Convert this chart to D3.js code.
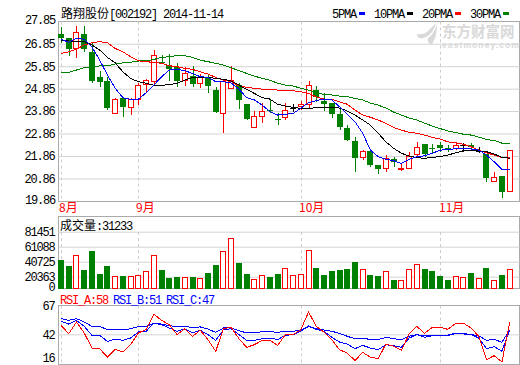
<!DOCTYPE html>
<html>

<head>
  <meta charset="utf-8">
  <script src="https://d3js.org/d3.v7.min.js"></script>
  <style>
    html, body { margin: 0; padding: 0; background: #fff; }
    svg { display: block; }
    text { font-family: "Liberation Mono", monospace; font-size: 12px; letter-spacing: -1.2px; fill: #000; }
    .cjk { font-family: "Noto Sans CJK SC", sans-serif; letter-spacing: 0; }
    .tick line { stroke: #d4d4d4; }
  </style>
</head>

<body>
  <div id="chart"></div>

  <script>
    const monthLabels = ["8月", "9月", "10月", "11月"];
    const monthIndex = [0, 10, 31, 49];

    const priceTicks = [27.85, 26.85, 25.85, 24.85, 23.86, 22.86, 21.86, 20.86, 19.86];
    const volumeTicks = [81451, 61088, 40725, 20363, 0];
    const rsiTicks = [67, 42, 16];

    const openPrice = [27.28, 27.09, 26.67, 27.28, 26.49, 25.37, 25.19, 23.79, 24.44, 24.03, 24.38, 25.05, 25.18, 26.04, 25.90,
      25.83, 25.21, 25.42, 25.12, 25.38, 24.79, 23.79, 24.88, 25.02, 24.17, 23.16, 23.65, 23.91, 23.49, 23.63, 23.98, 24.05, 24.17, 24.79, 24.31, 24.20, 23.73,
      23.09, 22.54, 21.81, 22.10, 21.46, 21.34, 21.72, 21.32, 21.34, 21.92, 22.40, 22.20, 22.35, 22.20, 22.23, 22.33, 22.35, 22.10, 21.94, 20.77, 20.98, 20.32];
    const closePrice = [27.11, 26.61, 27.36, 26.61, 25.21, 25.16, 24.00, 24.39, 24.05, 24.39, 25.00, 25.22, 26.35, 26.02, 25.73,
      25.19, 25.54, 25.06, 25.38, 24.98, 23.82, 25.21, 25.24, 24.36, 23.51, 23.64, 23.85, 23.88, 23.47, 23.92, 23.98, 24.16, 25.00, 24.47, 24.17, 23.73, 23.16,
      22.57, 21.77, 22.07, 21.48, 21.29, 21.79, 21.57, 21.34, 21.88, 22.25, 21.95, 22.18, 22.23, 22.17, 22.35, 22.33, 22.26, 22.10, 20.89, 20.94, 20.28, 22.14];
    const highPrice = [27.59, 27.11, 27.63, 27.63, 26.88, 25.65, 25.37, 24.42, 24.44, 24.45, 25.09, 25.28, 26.57, 26.35, 26.39,
      25.98, 25.83, 25.86, 25.50, 25.46, 24.93, 25.30, 25.86, 25.09, 24.17, 23.86, 24.22, 24.35, 23.76, 24.20, 24.17, 24.30, 25.21, 24.97, 24.65, 24.22, 24.00,
      23.24, 22.72, 22.13, 22.13, 21.46, 21.91, 21.83, 21.54, 22.03, 22.50, 22.40, 22.40, 22.50, 22.35, 22.47, 22.44, 22.45, 22.28, 21.97, 21.17, 20.98, 22.14];
    const lowPrice = [26.88, 26.32, 26.23, 26.49, 25.11, 24.94, 23.90, 23.73, 23.58, 23.68, 24.13, 24.66, 25.02, 26.00, 25.19,
      24.91, 24.97, 24.91, 24.90, 24.67, 23.76, 22.87, 24.84, 23.96, 23.46, 23.15, 23.34, 23.77, 23.24, 23.46, 23.82, 23.91, 23.98, 24.26, 23.85, 23.54, 23.02,
      22.54, 21.17, 21.66, 21.39, 21.06, 21.17, 21.39, 21.21, 21.30, 21.81, 21.83, 21.98, 22.05, 22.05, 22.13, 22.04, 22.13, 22.01, 20.72, 20.77, 20.00, 20.32];

    const ma5 = [27.04, 26.92, 27.10, 27.04, 26.71, 26.12, 25.46, 24.87, 24.45, 24.38, 24.38, 24.67, 25.01, 25.38, 25.68,
      25.71, 25.65, 25.53, 25.38, 25.36, 25.16, 25.16, 25.10, 24.83, 24.45, 24.35, 24.12, 23.83, 23.68, 23.71, 23.75, 23.98, 24.23, 24.32, 24.39, 24.35, 24.05,
      23.72, 23.38, 22.87, 22.12, 21.83, 21.71, 21.65, 21.53, 21.71, 21.83, 21.87, 21.98, 22.12, 22.15, 22.18, 22.20, 22.17, 22.12, 21.90, 21.60, 21.27, 21.27];
    const ma10 = [27.01, 26.97, 26.95, 26.94, 26.79, 26.57, 26.24, 26.00, 25.60, 25.31, 25.16, 25.09, 25.01, 25.00, 25.03,
      25.09, 25.23, 25.35, 25.35, 25.35, 25.31, 25.27, 25.19, 25.01, 24.82, 24.64, 24.45, 24.39, 24.16, 24.08, 24.02, 23.98, 23.98, 24.00, 24.02, 24.03, 23.99,
      23.86, 23.68, 23.46, 23.23, 22.87, 22.49, 22.20, 21.98, 21.86, 21.78, 21.76, 21.80, 21.83, 21.90, 22.00, 22.09, 22.12, 22.09, 22.05, 21.95, 21.80, 21.76];
    const ma20 = [26.42, 26.49, 26.61, 26.79, 26.89, 26.94, 26.89, 26.64, 26.49, 26.27, 26.09, 26.05, 26.02, 25.98, 25.87,
      25.83, 25.75, 25.71, 25.60, 25.50, 25.35, 25.23, 25.16, 24.98, 24.91, 24.87, 24.83, 24.82, 24.79, 24.79, 24.76, 24.72, 24.64, 24.49, 24.39, 24.38, 24.27,
      24.16, 23.90, 23.68, 23.58, 23.46, 23.31, 23.13, 23.01, 22.91, 22.87, 22.79, 22.69, 22.61, 22.49, 22.45, 22.38, 22.27, 22.12, 22.00, 21.90, 21.78, 21.80];
    const ma30 = [25.58, 25.58, 25.68, 25.78, 25.83, 25.86, 25.87, 25.95, 26.00, 26.03, 26.08, 26.09, 26.15, 26.24, 26.27,
      26.32, 26.32, 26.24, 26.12, 26.05, 25.98, 25.90, 25.78, 25.65, 25.53, 25.41, 25.31, 25.23, 25.09, 25.01, 24.97, 24.87, 24.79, 24.67, 24.60, 24.57, 24.52,
      24.50, 24.42, 24.35, 24.21, 24.12, 23.99, 23.81, 23.68, 23.55, 23.46, 23.32, 23.19, 23.08, 22.97, 22.90, 22.83, 22.79, 22.70, 22.59, 22.55, 22.43, 22.42];

    const volume = [44390, 36245, 49413, 30815, 56608, 25385, 36245, 20905, 22670, 20905, 22263, 27693, 49413, 30815, 19955,
      21313, 19548, 21313, 18190, 26743, 37603, 54843, 72490, 40318, 25385, 16833, 22263, 21313, 25385, 31766, 22263, 23620, 56200, 33530, 24028, 29458, 30815,
      32173, 41675, 30408, 24028, 22670, 27693, 17240, 15476, 30408, 37196, 32173, 29458, 22670, 17240, 20905, 19548, 26743, 18190, 33530, 15476, 24028, 31233];

    const rsiA = [49.8, 42.6, 52.7, 43.2, 30.1, 29.6, 22.1, 29.0, 26.7, 33.0, 43.2, 46.0, 59.6, 54.1, 50.4,
      41.7, 46.9, 40.3, 45.5, 37.4, 27.3, 46.9, 48.1, 38.2, 30.7, 33.0, 36.8, 36.8, 32.4, 41.7, 41.7, 46.0, 61.4, 48.9, 44.0, 37.4, 28.7,
      25.8, 19.2, 26.4, 22.1, 20.9, 33.6, 31.6, 28.1, 42.3, 48.9, 42.9, 48.1, 48.1, 46.3, 51.5, 51.8, 47.5, 40.3, 20.0, 23.5, 18.0, 52.4];
    const rsiB = [53.3, 50.9, 54.1, 48.9, 41.1, 41.1, 35.9, 37.9, 36.8, 38.8, 44.0, 44.6, 51.8, 50.4, 47.5,
      44.6, 46.9, 43.2, 45.5, 41.7, 36.8, 46.0, 46.9, 41.7, 36.8, 36.8, 38.2, 38.8, 37.4, 41.1, 41.7, 44.6, 49.5, 46.3, 44.6, 39.4, 35.3,
      33.6, 29.6, 32.4, 30.1, 28.7, 33.0, 32.2, 30.7, 38.8, 41.7, 39.4, 40.8, 40.8, 40.8, 42.6, 42.3, 41.7, 38.8, 29.6, 31.3, 27.3, 46.0];
    const rsiC = [55.6, 54.1, 55.6, 52.7, 48.9, 48.9, 46.0, 46.3, 45.8, 46.9, 48.6, 48.9, 51.5, 50.9, 49.5,
      48.6, 48.6, 48.1, 48.4, 46.6, 43.7, 47.5, 47.5, 45.2, 43.2, 43.4, 44.3, 44.3, 43.7, 44.6, 44.6, 45.8, 48.6, 46.9, 45.8, 44.6, 42.9,
      40.3, 38.2, 38.8, 37.4, 37.4, 39.4, 38.2, 37.4, 40.3, 41.7, 40.8, 41.4, 41.4, 41.4, 42.9, 42.9, 41.7, 40.8, 36.8, 37.6, 35.1, 46.0];

    var red = "#ff0000", green = "#008000", blue = "#0000ff", frame = "#aaaaaa", grid = "#d4d4d4";
    var left = 58.5, right = 519.5;

    var svg = d3.select("#chart").append("svg")
      .attr("width", 520)
      .attr("height", 365);

    var x = d3.scaleLinear().domain([0, 58]).range([61, 509.7]);
    var y = d3.scaleLinear().domain([19.86, 27.85]).range([201, 21.2]);
    var yVol = d3.scaleLinear().domain([0, 81451]).range([291.7, 231.7]);
    var yRsi = d3.scaleLinear().domain([16, 67]).range([364.3, 305.5]);

    function px(i) { return Math.round(x(i)); }

    // panel frames
    [[21.5, 201.5], [216.5, 288.5], [305.5, 364.5]].forEach(function (p) {
      svg.append("rect")
        .attr("x", left).attr("y", p[0])
        .attr("width", right - left).attr("height", p[1] - p[0])
        .attr("fill", "#fff").attr("stroke", frame);
    });

    // axis + grid, labels sit left of the frame
    function addAxis(scale, ticks, fmt) {
      var g = svg.append("g")
        .attr("transform", "translate(" + left + ",0)")
        .call(d3.axisLeft(scale).tickValues(ticks).tickFormat(fmt).tickSizeOuter(0).tickSizeInner(-(right - left)).tickPadding(4));
      g.select(".domain").remove();
      g.selectAll("text").attr("fill", "#000").style("font-family", null).style("font-size", null);
      g.selectAll("line").attr("stroke", grid);
      g.attr("font-family", null).attr("font-size", null);
      return g;
    }

    addAxis(y, priceTicks.slice(1, -1), d3.format(".2f"));
    svg.selectAll(".none").data([priceTicks[0], priceTicks[8]]).enter().append("text")
      .attr("x", 55).attr("y", function (d) { return y(d) + 3; })
      .attr("text-anchor", "end").text(d3.format(".2f"));

    var volAxis = addAxis(yVol, volumeTicks, d3.format("d"));
    volAxis.selectAll(".tick").filter(function (d) { return d === 0; })
      .attr("transform", "translate(0,287)")
      .select("line").remove();
    volAxis.selectAll(".tick").filter(function (d) { return d === 81451; })
      .select("line").attr("stroke", frame);

    var rsiAxis = addAxis(yRsi, rsiTicks, d3.format("d"));
    rsiAxis.selectAll(".tick").filter(function (d) { return d !== 42; }).select("line").remove();
    rsiAxis.selectAll(".tick").filter(function (d) { return d === 16; })
      .attr("transform", "translate(0,358.5)");

    // month separators
    [[21.5, 201.5], [232, 288.5], [305.5, 364.5]].forEach(function (p) {
      svg.selectAll(".none").data(monthIndex).enter().append("line")
        .attr("x1", function (d) { return px(d) + 0.5; })
        .attr("x2", function (d) { return px(d) + 0.5; })
        .attr("y1", p[0]).attr("y2", p[1])
        .attr("stroke", "#cccccc")
        .attr("stroke-dasharray", "3,3");
    });

    svg.selectAll(".month").data(monthLabels).enter().append("text")
      .attr("class", "month cjk")
      .attr("x", function (d, i) { return [59, 136, 299, 439][i]; })
      .attr("y", 212)
      .attr("fill", red)
      .style("fill", red)
      .text(function (d) { return d; });

    // watermark
    var mark = svg.append("g").attr("fill", "#d9d9d9");
    mark.append("path").attr("d", "M436 23C434 31 429 37 423 38C419 39 417 37 417 34C421 35 426 34 430 29C432 27 434 25 436 23Z");
    mark.append("path").attr("d", "M437 24C437 33 435 41 431 45C428 43 427 40 428 38C432 36 435 30 437 24Z");
    mark.append("text").attr("class", "cjk").attr("x", 442).attr("y", 36.5)
      .style("font-size", "14.5px").style("font-weight", "bold").style("fill", "#d9d9d9").text("东方财富网");
    mark.append("text").attr("x", 442).attr("y", 48)
      .style("font-family", "'Liberation Sans'").style("font-size", "8.5px").style("font-weight", "bold")
      .style("letter-spacing", "1.1px").style("fill", "#d9d9d9").text("eastmoney.com");

    // candles
    var candles = d3.range(openPrice.length);
    var main = svg.append("g").attr("shape-rendering", "crispEdges");

    function candleColor(i) {
      if (closePrice[i] > openPrice[i]) return red;
      if (closePrice[i] < openPrice[i]) return green;
      return "#000";
    }

    main.selectAll(".wick").data(candles).enter().append("line")
      .attr("class", "wick")
      .attr("x1", function (i) { return px(i) + 0.5; })
      .attr("x2", function (i) { return px(i) + 0.5; })
      .attr("y1", function (i) { return y(highPrice[i]); })
      .attr("y2", function (i) { return y(lowPrice[i]); })
      .attr("stroke", candleColor);

    main.selectAll(".body").data(candles).enter().append("rect")
      .attr("class", "body")
      .attr("x", function (i) { return closePrice[i] > openPrice[i] ? px(i) - 2.5 : px(i) - 3; })
      .attr("width", function (i) { return closePrice[i] > openPrice[i] ? 5 : 6; })
      .attr("y", function (i) { return Math.round(y(Math.max(openPrice[i], closePrice[i]))) + (closePrice[i] > openPrice[i] ? 0.5 : 0); })
      .attr("height", function (i) { return Math.max(1, Math.abs(y(openPrice[i]) - y(closePrice[i]))); })
      .attr("fill", function (i) { return closePrice[i] > openPrice[i] ? "#fff" : candleColor(i); })
      .attr("stroke", function (i) { return closePrice[i] > openPrice[i] ? red : "none"; });

    // moving averages
    var maLine = d3.line().x(function (d, i) { return x(i); }).y(function (d) { return y(d); });
    [[ma30, green], [ma20, red], [ma10, "#000"], [ma5, blue]].forEach(function (s) {
      main.append("path").datum(s[0])
        .attr("fill", "none").attr("stroke", s[1]).attr("stroke-width", 1)
        .attr("d", maLine);
    });

    // titles
    svg.append("text").attr("class", "cjk").attr("x", 61).attr("y", 18).text("路翔股份");
    svg.append("text").attr("x", 109).attr("y", 18).text("[002192] 2014-11-14");

    var legendNames = ["5PMA", "10PMA", "20PMA", "30PMA"];
    var legendColors = [blue, "#000", red, green];
    var legendX = [332, 374, 422, 470];
    var swatchX = [359, 407, 455, 503];
    legendNames.forEach(function (d, i) {
      svg.append("text").attr("x", legendX[i]).attr("y", 18).text(d);
      svg.append("rect").attr("x", swatchX[i]).attr("y", 12)
        .attr("width", 6).attr("height", 3).attr("fill", legendColors[i]);
    });

    // volume bars
    var vol = svg.append("g").attr("shape-rendering", "crispEdges");
    vol.selectAll("rect").data(candles).enter().append("rect")
      .attr("x", function (i) { return closePrice[i] >= openPrice[i] ? px(i) - 2.5 : px(i) - 3; })
      .attr("width", function (i) { return closePrice[i] >= openPrice[i] ? 5 : 6; })
      .attr("y", function (i) { return Math.round(yVol(volume[i])) + 0.5; })
      .attr("height", function (i) { return 288.5 - Math.round(yVol(volume[i])) - 0.5; })
      .attr("fill", function (i) { return closePrice[i] >= openPrice[i] ? "#fff" : green; })
      .attr("stroke", function (i) { return closePrice[i] >= openPrice[i] ? red : "none"; });

    svg.append("text").attr("class", "cjk").attr("x", 60).attr("y", 230).text("成交量");
    svg.append("text").attr("x", 96).attr("y", 230).text(":31233");

    // rsi lines
    var rsiLine = d3.line().x(function (d, i) { return x(i); }).y(function (d) { return yRsi(d); });
    var rsi = svg.append("g").attr("shape-rendering", "crispEdges");
    [[rsiC, blue], [rsiB, blue], [rsiA, red]].forEach(function (s) {
      rsi.append("path").datum(s[0])
        .attr("fill", "none").attr("stroke", s[1]).attr("stroke-width", 1)
        .attr("d", rsiLine);
    });

    svg.append("text").attr("x", 60).attr("y", 304).style("fill", red).text("RSI_A:58");
    svg.append("text").attr("x", 113).attr("y", 304).style("fill", blue).text("RSI_B:51");
    svg.append("text").attr("x", 166).attr("y", 304).style("fill", blue).text("RSI_C:47");
  </script>
</body>

</html>
